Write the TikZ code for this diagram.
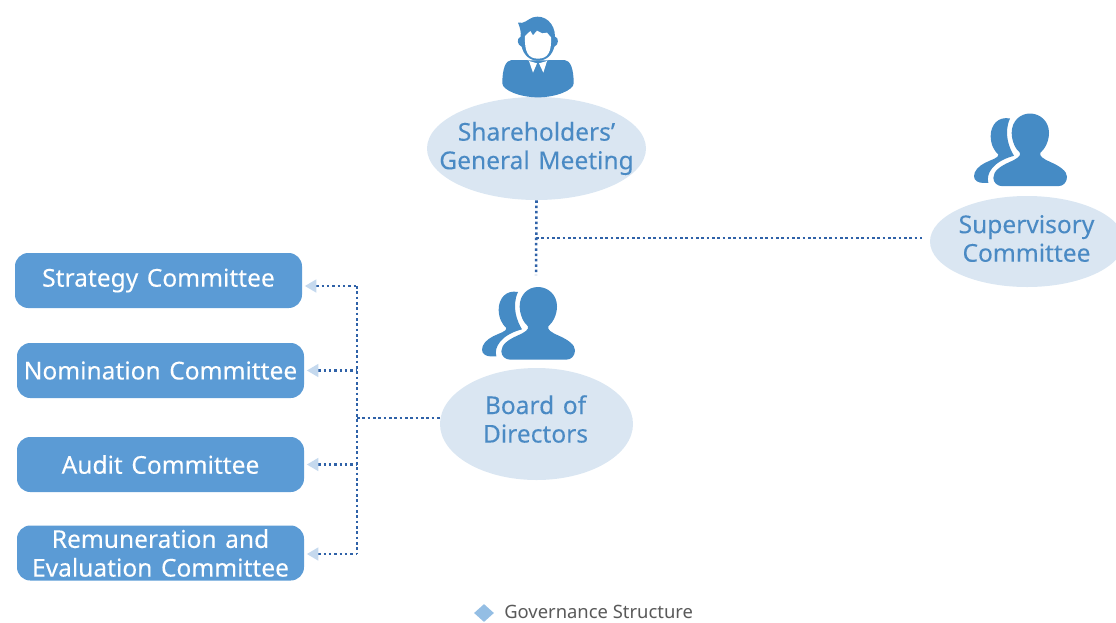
\documentclass[tikz,border=0pt]{standalone}
\usepackage{fontspec}
\setmainfont[WordSpace=1.35,FakeBold=0.12]{Noto Sans}
\newfontfamily\legendfont{Noto Sans}
\usetikzlibrary{shapes.geometric,arrows.meta,calc}
\definecolor{oval}{HTML}{DAE6F2}
\definecolor{ovaltext}{HTML}{4A8AC4}
\definecolor{boxfill}{HTML}{5B9BD5}
\definecolor{iconblue}{HTML}{458BC5}
\definecolor{dotblue}{HTML}{2F62A8}
\definecolor{tipblue}{HTML}{C5D9EE}
\definecolor{legendtext}{HTML}{595959}
\tikzset{
  x=0.75pt,y=-0.75pt,
  ovalnode/.style={ellipse,fill=oval,inner sep=0pt},
  ovaltextnode/.style={text=ovaltext,inner sep=0pt,align=center,font=\fontsize{18.4}{21.4}\selectfont},
  boxnode/.style={rectangle,rounded corners=10pt,fill=boxfill,text=white,inner sep=0pt,align=center,minimum width=215.25pt,minimum height=41.25pt,font=\fontsize{18.4}{21.5}\selectfont},
  dotline/.style={draw=dotblue,line width=1.9pt,dash pattern=on 1.9pt off 2.1pt},
  tipline/.style={dotline,{Triangle[length=8.5pt,width=10pt,color=tipblue,fill=tipblue,line width=0pt,sep=2pt]}-},
  pics/twopeople/.style={code={
    \begin{scope}[x=0.25pt,y=-0.25pt,shift={(-775,-82)}]
      \fill[iconblue] (715,97) .. controls (680,90) and (657,115) .. (657,150)
        .. controls (657,175) and (668,195) .. (680,205)
        .. controls (682,215) and (660,220) .. (640,230)
        .. controls (620,240) and (607,255) .. (607,270)
        .. controls (607,283) and (620,290) .. (632,290) -- (650,290)
        .. controls (642,262) and (665,225) .. (727,209)
        .. controls (712,185) and (695,140) .. (715,97) -- cycle;
      \fill[iconblue] (775,82) .. controls (745,82) and (720,105) .. (720,140)
        .. controls (720,165) and (732,190) .. (745,200)
        .. controls (748,210) and (735,218) .. (715,227)
        .. controls (685,240) and (665,255) .. (665,275)
        .. controls (665,290) and (678,300) .. (692,300) -- (860,300)
        .. controls (875,300) and (886,288) .. (886,272)
        .. controls (886,255) and (865,240) .. (835,227)
        .. controls (815,218) and (802,210) .. (806,200)
        .. controls (820,188) and (832,165) .. (832,140)
        .. controls (832,105) and (805,82) .. (775,82) -- cycle;
    \end{scope}}},
  pics/oneperson/.style={code={
    \begin{scope}[x=0.25pt,y=-0.25pt,shift={(-355,-48)}]
      \fill[iconblue] (275,180) -- (435,180) .. controls (452,182) and (462,205) .. (462,250)
        .. controls (462,270) and (410,292) .. (355,292)
        .. controls (300,292) and (248,270) .. (248,250)
        .. controls (248,205) and (258,182) .. (275,180) -- cycle;
      \fill[white] (305,160) -- (405,160) -- (385,181) -- (325,181) -- cycle;
      \fill[iconblue] (295,68) .. controls (315,72) and (320,60) .. (340,52)
        .. controls (375,42) and (406,70) .. (406,110)
        .. controls (418,112) and (418,135) .. (404,140)
        .. controls (398,165) and (380,182) .. (355,182)
        .. controls (330,182) and (312,165) .. (306,140)
        .. controls (292,135) and (290,115) .. (303,110)
        .. controls (305,95) and (300,80) .. (295,68) -- cycle;
      \fill[white] (316,108) -- (332,93) -- (340,106) -- (352,92) -- (368,100) -- (382,98) -- (394,112)
        .. controls (396,155) and (385,176) .. (355,176)
        .. controls (325,176) and (314,155) .. (316,108) -- cycle;
      \fill[white] (328,183) -- (352,190) -- (340,218) -- cycle;
      \fill[white] (382,183) -- (358,190) -- (371,218) -- cycle;
    \end{scope}}}
}
\begin{document}
\begin{tikzpicture}
\useasboundingbox (0,0) rectangle (1116,622);
% ovals
\node[ovalnode,minimum width=164.25pt,minimum height=77.25pt] (meeting) at (536.5,148.5) {};
\node[ovaltextnode] (meetinglabel) at (536.5,148.5) {Shareholders’\\General Meeting};
\node[ovalnode,minimum width=144.75pt,minimum height=84pt] (board) at (536.5,424) {};
\node[ovaltextnode] (boardlabel) at (535.5,419) {Board of\\Directors};
\node[ovalnode,minimum width=145.5pt,minimum height=68.25pt] (super) at (1027,241.5) {};
\node[ovaltextnode] (superlabel) at (1026.5,238.5) {Supervisory\\Committee};
% icons
\pic at (538,287) {twopeople};
\pic at (1030,113.5) {twopeople};
\pic at (538,16) {oneperson};
% committee boxes
\node[boxnode] (strategy) at (158.5,280.5) {Strategy Committee};
\node[boxnode] (nomination) at (160.5,370.5) {Nomination Committee};
\node[boxnode] (audit) at (160.5,464.5) {Audit Committee};
\node[boxnode] (remun) at (160.5,553) {Remuneration and\\Evaluation Committee};
% connector coordinates
\coordinate (boardtop) at (536,275);
\coordinate (branch) at (536,238);
\coordinate (superend) at (922,238);
\coordinate (trunktop) at (357,286);
\coordinate (trunkmid) at (357,418);
\coordinate (trunkbot) at (357,554);
% connectors
\draw[dotline] (meeting.south) -- (boardtop);
\draw[dotline] (branch) -- (superend);
\draw[dotline] (trunktop) -- (trunkbot);
\draw[dotline] (trunkmid) -- (board.west |- trunkmid);
\draw[tipline] (strategy.east |- trunktop) -- (trunktop);
\draw[tipline] (nomination.east) -- (nomination.east -| trunktop);
\draw[tipline] (audit.east) -- (audit.east -| trunktop);
\draw[tipline] (remun.east |- trunkbot) -- (trunkbot);
% legend
\node[diamond,fill=boxfill!65,inner sep=0pt,minimum width=15pt,minimum height=13.5pt] (mark) at (484,613) {};
\node[anchor=west,inner sep=0pt,text=legendtext,font=\legendfont\fontsize{13.8}{16}\selectfont] (legend) at (504,612) {Governance Structure};
\end{tikzpicture}
\end{document}
